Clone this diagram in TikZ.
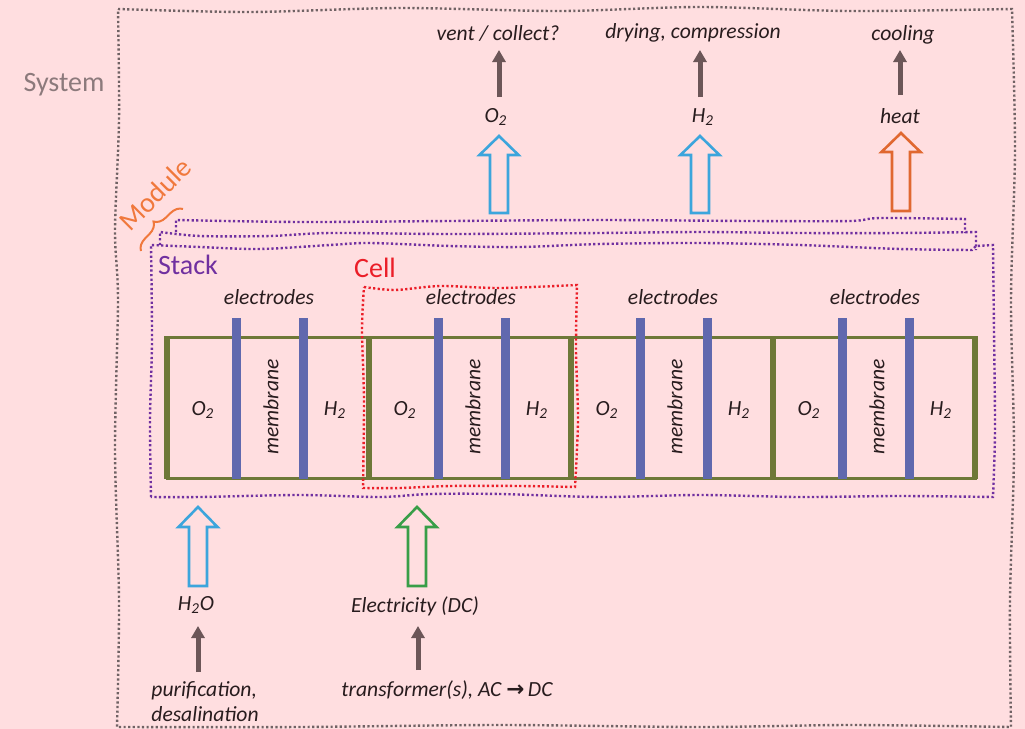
\documentclass[tikz,border=0pt]{standalone}
\usepackage{fontspec}
\setmainfont{Carlito}
\newfontfamily\arrowglyph{DejaVu Sans}
\usetikzlibrary{arrows.meta,decorations.pathreplacing,calc}

\definecolor{bgpink}{RGB}{255,222,224}
\definecolor{sysgray}{RGB}{112,98,100}
\definecolor{syslabel}{RGB}{140,122,124}
\definecolor{stackpurple}{RGB}{112,48,160}
\definecolor{cellred}{RGB}{235,30,40}
\definecolor{modorange}{RGB}{240,120,60}
\definecolor{olive}{RGB}{110,120,56}
\definecolor{electrode}{RGB}{96,104,174}
\definecolor{flowblue}{RGB}{60,165,220}
\definecolor{flowgreen}{RGB}{56,158,72}
\definecolor{heatorange}{RGB}{224,104,48}
\definecolor{pipe}{RGB}{108,86,88}
\definecolor{ink}{RGB}{40,28,30}

% outlined block arrow: colour, x, tip y, head-base y, bottom y
\newcommand\hollowarrow[5]{%
  \draw[hollow,#1] (#2-9,#5) -- (#2-9,#4) -- (#2-19.5,#4) -- (#2,#3)
    -- (#2+19.5,#4) -- (#2+9,#4) -- (#2+9,#5) -- cycle;}

\begin{document}
\begin{tikzpicture}[x=0.5pt,y=-0.5pt,
  lbl/.style={font=\fontsize{10.8}{13}\selectfont\itshape, text=ink, inner sep=1pt},
  big/.style={font=\fontsize{14}{17}\selectfont, inner sep=1pt},
  boundary/.style={line width=1.2pt, dash pattern=on 1.1pt off 1.2pt},
  sysline/.style={boundary, sysgray},
  stackline/.style={boundary, stackpurple},
  cellline/.style={boundary, cellred},
  darr/.style={pipe, line width=2.5pt, -{Triangle[width=6.5pt,length=6pt]}},
  hollow/.style={line width=1.3pt, line join=miter},
  plate/.style={electrode, line width=4.5pt},
]
\useasboundingbox (0,0) rectangle (1025,729);
\fill[bgpink] (0,0) rectangle (1025,729);

% ---- system boundary ----
\draw[sysline] plot[smooth,tension=0.5] coordinates {(118,9) (250,12) (400,8) (560,11) (700,7) (850,11) (1012,9)}
  -- plot[smooth,tension=0.5] coordinates {(1012,9) (1015,150) (1011,300) (1014,450) (1010,600) (1011,727)}
  -- plot[smooth,tension=0.5] coordinates {(1011,727) (850,725) (700,727) (500,725) (300,727) (117,727)}
  -- plot[smooth,tension=0.5] coordinates {(117,727) (119,600) (115,450) (118,300) (115,230) (119,120) (118,9)};
\node[big, text=syslabel] (system) at (64,85) {System};

% ---- module: stacks behind the front stack ----
\draw[stackline] (176,232) -- (176,220)
  -- plot[smooth,tension=0.5] coordinates {(176,220) (300,222) (450,221) (600,220) (750,221) (850,221) (880,218) (965,219)}
  -- (965,233);
\draw[stackline] (160,245) -- (160,232)
  -- plot[smooth,tension=0.5] coordinates {(160,232) (200,236) (270,236) (330,233) (450,234) (600,233) (700,232) (800,233) (900,233) (976,232)}
  -- (976,250);
% front stack
\draw[stackline] plot[smooth,tension=0.5] coordinates {(151,497) (150,420) (152,340) (151,245)}
  -- plot[smooth,tension=0.5] coordinates {(151,245) (200,247) (260,249) (330,245) (370,243) (450,246) (520,247) (600,244) (700,243) (800,245) (900,249) (972,250)}
  -- (976,246) -- (993,245)
  -- plot[smooth,tension=0.5] coordinates {(993,245) (994,330) (995,430) (993,497)}
  -- plot[smooth,tension=0.5] coordinates {(993,497) (900,496) (800,497) (700,495) (600,497) (500,494) (430,494) (380,497) (300,495) (200,497) (151,497)};

\node[big, text=modorange, rotate=45] (module) at (155,194) {Module};
\draw[modorange, line width=1pt, decorate, decoration={brace, amplitude=6pt}] (141,251) -- (183,209);
\node[big, text=stackpurple] (stack) at (188,265) {Stack};
\node[big, text=cellred] (cell) at (375,268) {Cell};

% ---- cells ----
\draw[olive, line width=1.5pt] (167,337) rectangle (975,478);
\foreach \xs in {167,369,571,773,975}
  \draw[olive, line width=3pt] (\xs,336) -- (\xs,479);
\foreach \i in {0,...,3}{
  \pgfmathsetmacro\xs{167+202*\i}
  \draw[plate] (\xs+69,318) -- (\xs+69,479);
  \draw[plate] (\xs+136,318) -- (\xs+136,479);
  \node[lbl] (el\i) at (\xs+102,297) {electrodes};
  \node[lbl] (ox\i) at (\xs+36,410) {O\textsubscript{2}};
  \node[lbl, rotate=90] (mem\i) at (\xs+104,407) {membrane};
  \node[lbl] (hy\i) at (\xs+168,410) {H\textsubscript{2}};
}
% one cell
\draw[cellline] plot[smooth,tension=0.5] coordinates {(364,287) (395,290) (440,286) (500,288) (577,285)}
  -- plot[smooth,tension=0.5] coordinates {(577,285) (576,350) (578,420) (575,487)}
  -- plot[smooth,tension=0.5] coordinates {(575,487) (520,486) (450,486) (400,488) (363,488)}
  -- plot[smooth,tension=0.5] coordinates {(363,488) (364,400) (362,330) (364,287)};

% ---- outputs ----
\hollowarrow{flowblue}{499}{136}{155}{213}
\hollowarrow{flowblue}{700}{136}{155}{213}
\hollowarrow{heatorange}{901}{133}{152}{211}
\node[lbl] (o2out) at (496,117) {O\textsubscript{2}};
\node[lbl] (h2out) at (703,117) {H\textsubscript{2}};
\node[lbl] (heat) at (900,116) {heat};
\node[lbl] (vent) at (498,33) {vent / collect?};
\node[lbl] (dry) at (693,33) {drying, compression};
\node[lbl] (cool) at (903,35) {cooling};
\coordinate (o2a) at (499,97);  \coordinate (o2b) at (499,50);
\coordinate (h2a) at (700,97);  \coordinate (h2b) at (700,50);
\coordinate (hta) at (900,95);  \coordinate (htb) at (900,50);
\draw[darr] (o2a) -- (o2b);
\draw[darr] (h2a) -- (h2b);
\draw[darr] (hta) -- (htb);

% ---- inputs ----
\hollowarrow{flowblue}{198}{507}{527}{586}
\hollowarrow{flowgreen}{417}{507}{527}{586}
\node[lbl] (water) at (196,605) {H\textsubscript{2}O};
\node[lbl] (power) at (415,606) {Electricity (DC)};
\node[lbl, align=left, anchor=west, font=\fontsize{10.8}{12.5}\selectfont\itshape] (purify) at (149,702) {purification,\\desalination};
\node[lbl] (trafo) at (447,690) {transformer(s), AC {\arrowglyph\bfseries\upshape →}\,DC};
\coordinate (wa) at (198,672); \coordinate (wb) at (198,626);
\coordinate (pa) at (418,670); \coordinate (pb) at (418,626);
\draw[darr] (wa) -- (wb);
\draw[darr] (pa) -- (pb);
\end{tikzpicture}
\end{document}
